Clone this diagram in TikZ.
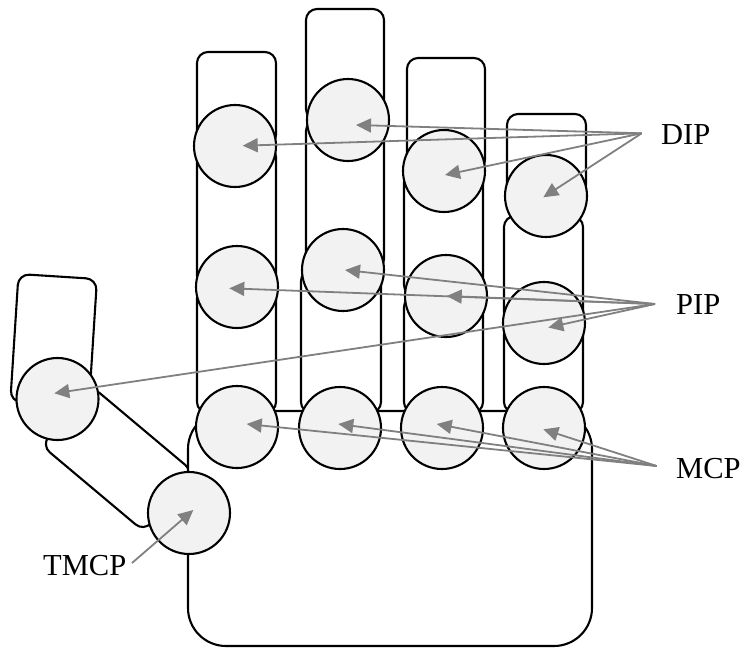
\documentclass[tikz,border=0pt]{standalone}
\usepackage{fontspec}
\setmainfont{Liberation Serif}
\usetikzlibrary{arrows.meta}
\definecolor{jointfill}{HTML}{F2F2F2}
\definecolor{pointergray}{HTML}{808080}

\begin{document}
\begin{tikzpicture}[x=1pt,y=-1pt,
  bone/.style={draw=black,fill=white,line width=2.1pt,rounded corners=11pt},
  palmbox/.style={draw=black,fill=white,line width=2.1pt,rounded corners=38pt},
  joint/.style={circle,draw=black,fill=jointfill,line width=2.1pt,
                minimum size=82pt,inner sep=0pt},
  pointer/.style={draw=pointergray,line width=1.8pt,
                  -{Triangle[length=15pt,width=14pt]}},
  lbl/.style={font=\fontsize{30.5}{36}\selectfont,inner sep=0pt,anchor=base west}]

\useasboundingbox (0,0) rectangle (745,648);

% ---- thumb bones ----
\draw[bone] (18.5,274) -- (97,279) -- (88.8,406.7) -- (10.3,401.7) -- cycle;
\draw[bone] (91.2,385.9) -- (193.8,472.1) -- (144.0,531.5) -- (41.4,445.3) -- cycle;

% ---- finger bones (distal, middle, proximal) ----
% index
\draw[bone] (197,52)  rectangle (276,146);
\draw[bone] (197,146) rectangle (276,287);
\draw[bone] (197,287) rectangle (276,413);
% middle
\draw[bone] (306,9)   rectangle (384,120);
\draw[bone] (306,120) rectangle (384,270);
\draw[bone] (301,270) rectangle (381,413);
% ring
\draw[bone] (407,58)  rectangle (485,171);
\draw[bone] (404,171) rectangle (483,296);
\draw[bone] (404,296) rectangle (483,413);
% little
\draw[bone] (507,114) rectangle (586,196);
\draw[bone] (504,216) rectangle (583,323);
\draw[bone] (504,323) rectangle (583,413);

% ---- palm ----
\draw[palmbox] (188,411) rectangle (592,646);

% ---- joints ----
\node[joint] (ip0)  at (57.5,399) {};
\node[joint] (tmcpj) at (189,513) {};

\node[joint] (dip1) at (235,146) {};
\node[joint] (pip1) at (237,287) {};
\node[joint] (mcp1) at (237,427) {};

\node[joint] (dip2) at (348,120) {};
\node[joint] (pip2) at (343,270) {};
\node[joint] (mcp2) at (340,428) {};

\node[joint] (dip3) at (444,171) {};
\node[joint] (pip3) at (446,296) {};
\node[joint] (mcp3) at (442,428) {};

\node[joint] (dip4) at (546,196) {};
\node[joint] (pip4) at (544,323) {};
\node[joint] (mcp4) at (544,428) {};

% ---- labels ----
\node[lbl] (dip)  at (661,144) {DIP};
\node[lbl] (pip)  at (676,314) {PIP};
\node[lbl] (mcp)  at (676,478) {MCP};
\node[lbl] (tmcp) at (43,575)  {TMCP};

% ---- pointer hubs and tips ----
\coordinate (dipHub)  at (641.7,133.3);
\coordinate (pipHub)  at (655,304);
\coordinate (mcpHub)  at (656.7,466);
\coordinate (tmcpHub) at (132,563);

\coordinate (dip1t) at (242.7,145.7);
\coordinate (dip2t) at (356,125);
\coordinate (dip3t) at (445,175);
\coordinate (dip4t) at (543.3,197.3);

\coordinate (ip0t)  at (54.3,393.3);
\coordinate (pip1t) at (229.3,288.3);
\coordinate (pip2t) at (345,270);
\coordinate (pip3t) at (446.7,296);
\coordinate (pip4t) at (548.3,327.5);

\coordinate (mcp1t) at (246.7,424);
\coordinate (mcp2t) at (338.3,424);
\coordinate (mcp3t) at (436.7,424);
\coordinate (mcp4t) at (543.3,429.3);

\coordinate (tmcpt) at (193.3,510);

% ---- pointers ----
\foreach \t in {dip1t,dip2t,dip3t,dip4t} \draw[pointer] (dipHub) -- (\t);
\foreach \t in {ip0t,pip1t,pip2t,pip3t,pip4t} \draw[pointer] (pipHub) -- (\t);
\foreach \t in {mcp1t,mcp2t,mcp3t,mcp4t} \draw[pointer] (mcpHub) -- (\t);
\draw[pointer] (tmcpHub) -- (tmcpt);

\end{tikzpicture}
\end{document}
